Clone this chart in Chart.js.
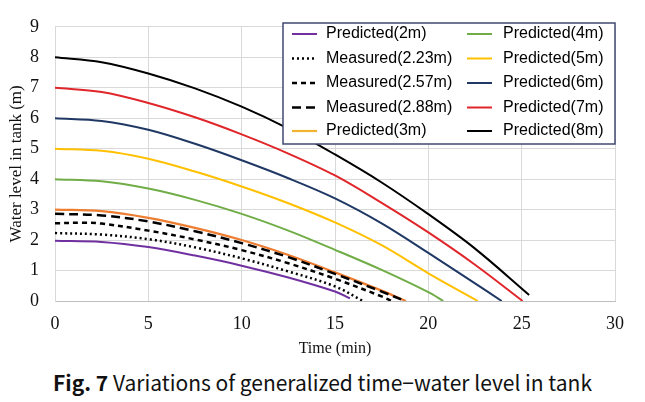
<!DOCTYPE html>
<html>
<head>
<meta charset="utf-8">
<script src="https://cdn.jsdelivr.net/npm/chart.js@4"></script>
<style>
  body { margin: 0; background: #fff; }
  #wrap { width: 645px; height: 402px; position: relative; }
  #cv { display: block; }
  #caption {
    position: absolute; left: 0; top: 367px; width: 645px; text-align: center;
    font-family: "Noto Sans CJK KR", "Liberation Sans", sans-serif; font-size: 21px; color: #111;
  }
  #caption b { font-weight: bold; }
</style>
</head>
<body>
<div id="wrap">
  <canvas id="cv" width="645" height="362"></canvas>
  <div id="caption"><b>Fig. 7</b> Variations of generalized time−water level in tank</div>
</div>
<script>
// time (min) and water level (m)
var t2m   = [0, 2.5, 5, 7.5, 10, 12.5, 15, 15.8];
var h2m   = [1.98, 1.94, 1.77, 1.49, 1.16, 0.77, 0.31, 0.09];
var tM223 = [0, 2.5, 5, 7.5, 10, 12.5, 15, 16.5];
var hM223 = [2.23, 2.18, 2.03, 1.76, 1.40, 0.97, 0.48, 0];
var tM257 = [0, 1.5, 2.5, 5, 7.5, 10, 12.5, 15, 17.5, 18.03];
var hM257 = [2.55, 2.57, 2.54, 2.31, 2.02, 1.67, 1.24, 0.73, 0.15, 0];
var tM288 = [0, 2.5, 5, 7.5, 10, 12.5, 15, 17.5, 18.75];
var hM288 = [2.86, 2.81, 2.61, 2.29, 1.90, 1.44, 0.89, 0.31, 0];
var t3m   = [0, 2.5, 5, 7.5, 10, 12.5, 15, 17.5, 18.8];
var h3m   = [3.0, 2.95, 2.73, 2.40, 2.00, 1.51, 0.94, 0.34, 0];
var t4m   = [0, 2.5, 5, 7.5, 10, 12.5, 15, 17.5, 20, 20.8];
var h4m   = [4.0, 3.93, 3.69, 3.32, 2.86, 2.31, 1.68, 1.02, 0.29, 0];
var t5m   = [0, 2.5, 5, 7.5, 10, 12.5, 15, 17.5, 20, 22.65];
var h5m   = [5.0, 4.93, 4.67, 4.25, 3.76, 3.21, 2.58, 1.83, 0.91, 0];
var t6m   = [0, 2.5, 5, 7.5, 10, 12.5, 15, 17.5, 20, 22.5, 23.93];
var h6m   = [6.0, 5.91, 5.62, 5.16, 4.62, 4.03, 3.37, 2.55, 1.58, 0.58, 0];
var t7m   = [0, 2.5, 5, 7.5, 10, 12.5, 15, 17.5, 20, 22.5, 25.05];
var h7m   = [7.0, 6.86, 6.50, 6.03, 5.47, 4.84, 4.12, 3.22, 2.25, 1.19, 0];
var t8m   = [0, 2.5, 5, 7.5, 10, 12.5, 15, 17.5, 20, 22.5, 25.4];
var h8m   = [8.0, 7.84, 7.47, 6.98, 6.38, 5.66, 4.81, 3.89, 2.85, 1.72, 0.2];

var xTicks = [0, 5, 10, 15, 20, 25, 30];
var yTicks = [0, 1, 2, 3, 4, 5, 6, 7, 8, 9];

function pts(ts, hs) {
  return ts.map(function (t, i) { return { x: t, y: hs[i] }; });
}

function line(label, ts, hs, color, dash, width, col, row, legendColor) {
  return {
    label: label,
    data: pts(ts, hs),
    borderColor: color,
    borderDash: dash,
    borderWidth: width,
    pointRadius: 0,
    fill: false,
    tension: 0.35,
    legendCol: col,
    legendRow: row,
    legendColor: legendColor || color
  };
}

var datasets = [
  line('Predicted(2m)', t2m, h2m, '#7030A0', [], 2, 0, 0),
  line('Measured(2.23m)', tM223, hM223, '#000000', [2, 3], 2.5, 0, 1),
  line('Measured(2.57m)', tM257, hM257, '#000000', [5, 4], 2.5, 0, 2),
  line('Measured(2.88m)', tM288, hM288, '#000000', [9, 5], 2.5, 0, 3),
  line('Predicted(3m)', t3m, h3m, '#ED7D31', [], 2.2, 0, 4, '#F2B330'),
  line('Predicted(4m)', t4m, h4m, '#70AD47', [], 2, 1, 0),
  line('Predicted(5m)', t5m, h5m, '#FFC000', [], 2, 1, 1),
  line('Predicted(6m)', t6m, h6m, '#203864', [], 2, 1, 2),
  line('Predicted(7m)', t7m, h7m, '#E0262A', [], 2, 1, 3),
  line('Predicted(8m)', t8m, h8m, '#000000', [], 2, 1, 4)
];

// legend box drawn inside the plot, over the lines
var boxLegend = {
  id: 'boxLegend',
  afterDatasetsDraw: function (chart) {
    var c = chart.ctx;
    var bx = 283, by = 23, bw = 332, bh = 121;
    var rows = [34, 58.5, 83, 107.5, 131];
    var lineX = [292, 467], textX = [326, 503];
    c.save();
    c.fillStyle = '#fff';
    c.fillRect(bx, by, bw, bh);
    c.strokeStyle = '#3f4a72';
    c.lineWidth = 1.5;
    c.strokeRect(bx, by, bw, bh);
    c.font = '16px "Liberation Sans", Arial, sans-serif';
    c.textBaseline = 'middle';
    chart.data.datasets.forEach(function (ds) {
      var y = rows[ds.legendRow];
      var x0 = lineX[ds.legendCol];
      c.beginPath();
      c.strokeStyle = ds.legendColor;
      c.lineWidth = ds.borderWidth;
      c.setLineDash(ds.borderDash);
      c.moveTo(x0, y);
      c.lineTo(x0 + 25, y);
      c.stroke();
      c.setLineDash([]);
      c.fillStyle = '#000';
      c.fillText(ds.label, textX[ds.legendCol], y);
    });
    c.restore();
  }
};

new Chart(document.getElementById('cv'), {
  type: 'line',
  data: { datasets: datasets },
  options: {
    responsive: false,
    animation: false,
    layout: { padding: { top: 16, right: 30, left: 0, bottom: 0 } },
    plugins: {
      legend: { display: false },
      tooltip: { enabled: false }
    },
    scales: {
      x: {
        type: 'linear',
        min: 0, max: 30,
        afterBuildTicks: function (s) { s.ticks = xTicks.map(function (v) { return { value: v }; }); },
        afterFit: function (s) { s.height = 61; },
        grid: { color: '#d9d9d9', lineWidth: 1, drawTicks: false },
        border: { color: '#bfbfbf' },
        ticks: { padding: 12, color: '#111', font: { family: '"Liberation Serif", "Times New Roman", serif', size: 18 } },
        title: {
          display: true, text: 'Time (min)', color: '#111',
          font: { family: '"Liberation Serif", "Times New Roman", serif', size: 16 },
          padding: { top: 0, bottom: 4 }
        }
      },
      y: {
        min: 0, max: 9,
        afterBuildTicks: function (s) { s.ticks = yTicks.map(function (v) { return { value: v }; }); },
        afterFit: function (s) { s.width = 55; },
        grid: { color: '#d9d9d9', lineWidth: 1, drawTicks: false },
        border: { color: '#d9d9d9' },
        ticks: { padding: 16, color: '#111', font: { family: '"Liberation Serif", "Times New Roman", serif', size: 18 } },
        title: {
          display: true, text: 'Water level in tank (m)', color: '#111',
          font: { family: '"Liberation Serif", "Times New Roman", serif', size: 17 },
          padding: { top: 6, bottom: 0 }
        }
      }
    }
  },
  plugins: [boxLegend]
});
</script>
</body>
</html>
